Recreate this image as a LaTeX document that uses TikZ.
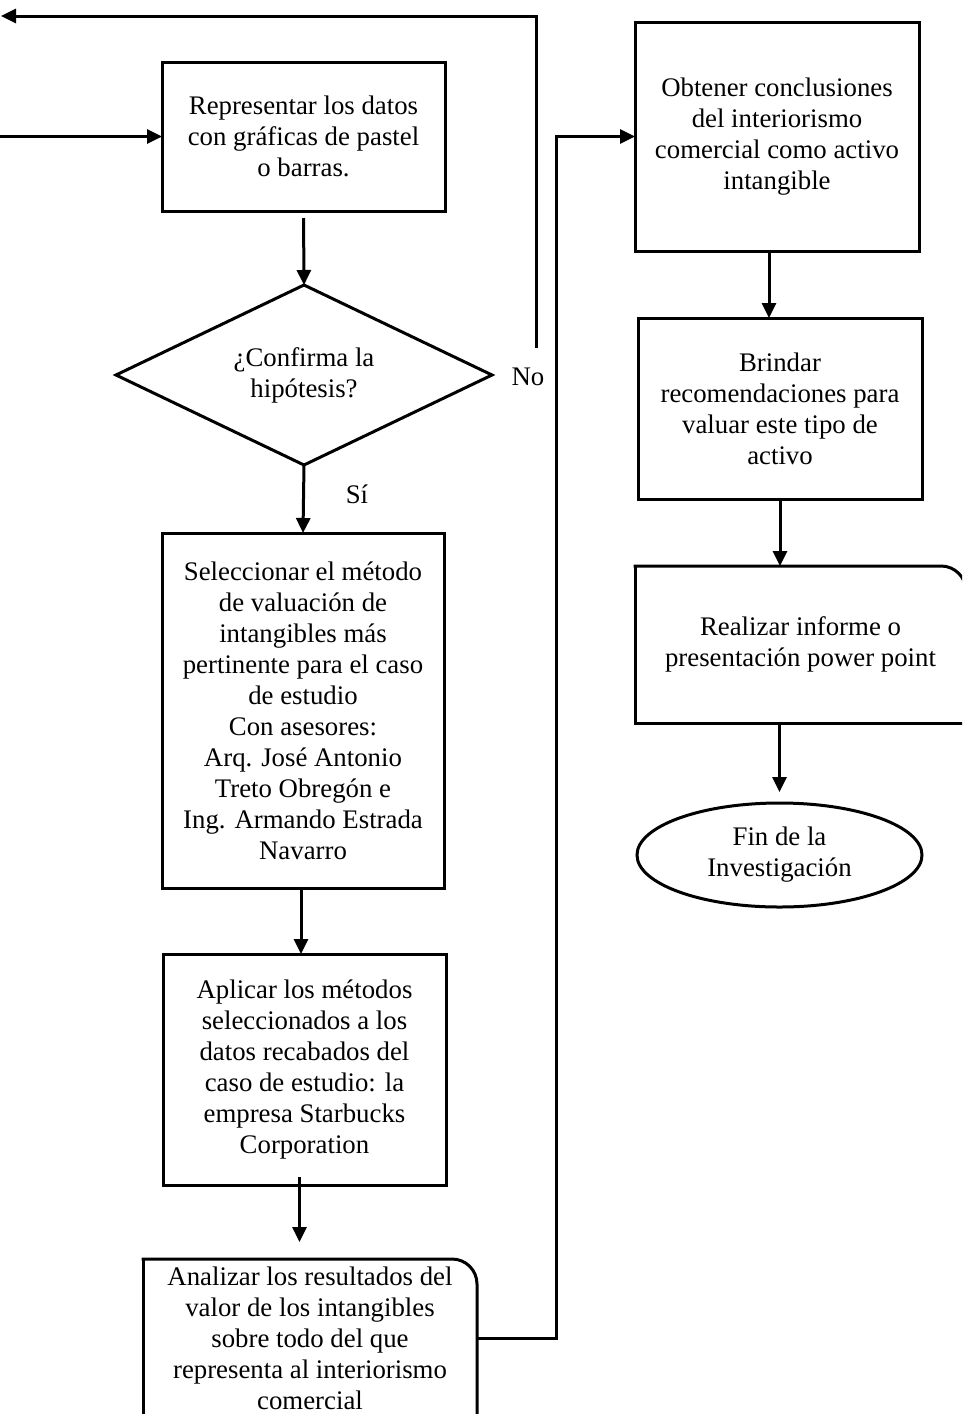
\documentclass[tikz,border=0pt]{standalone}
\usepackage{fontspec}
\setmainfont{Liberation Serif}
\usetikzlibrary{shapes.geometric,arrows.meta,calc}
\tikzset{
  txt/.style={font=\fontsize{26.8pt}{31pt}\selectfont, align=center, inner sep=0pt, outer sep=0pt},
  procbox/.style={txt, draw, line width=3pt, rectangle},
  decision/.style={txt, draw, line width=3pt, diamond, aspect=2.09},
  terminal/.style={txt, draw, line width=3pt, ellipse},
  edge/.style={line width=3pt, line cap=rect},
  conn/.style={line width=3pt, -{Triangle[length=15pt,width=14pt]}}
}
\begin{document}
\begin{tikzpicture}[x=1pt,y=-1pt]
\clip (0,0) rectangle (962,1414);
\fill[white] (0,0) rectangle (962,1414);

\node[procbox, minimum width=283pt, minimum height=149pt] (b1) at (303.5,136.5)
  {Representar los datos\\con gráficas de pastel\\o barras.};
\node[decision, minimum width=376pt, minimum height=180pt] (d) at (304,375)
  {¿Confirma la\\hipótesis?};
\node[procbox, minimum width=282pt, minimum height=355pt] (b2) at (303,710.5)
  {Seleccionar el método\\de valuación de\\intangibles más\\pertinente para el caso\\de estudio\\Con asesores:\\Arq. José Antonio\\Treto Obregón e\\Ing. Armando Estrada\\Navarro};
\node[procbox, minimum width=283pt, minimum height=231pt] (b3) at (304.5,1069.5)
  {Aplicar los métodos\\seleccionados a los\\datos recabados del\\caso de estudio: la\\empresa Starbucks\\Corporation};
\node[txt, minimum width=334pt, minimum height=159pt] (b4) at (310,1338.5)
  {Analizar los resultados del\\valor de los intangibles\\sobre todo del que\\representa al interiorismo\\comercial};
\node[procbox, minimum width=284pt, minimum height=229pt] (b5) at (777,136.5)
  {Obtener conclusiones\\del interiorismo\\comercial como activo\\intangible};
\node[procbox, minimum width=284pt, minimum height=181pt] (b6) at (780,408.5)
  {Brindar\\recomendaciones para\\valuar este tipo de\\activo};
\node[txt, minimum width=331pt, minimum height=157pt] (b7) at (800.5,644.5)
  {Realizar informe o\\presentación power point};
\node[terminal, minimum width=285pt, minimum height=104pt] (e) at (779.5,855)
  {Fin de la\\Investigación};

\node[txt] (no) at (528,377) {No};
\node[txt] (si) at (357,494) {Sí};

% rounded-corner process boxes (only the top-right corner rounded)
\draw[edge, rounded corners=25pt] (b4.north west) -- (b4.north east) -- (b4.south east);
\draw[edge] (b4.north west) -- (b4.south west) -- (b4.south east);
\draw[edge, rounded corners=25pt] (b7.north west) -- (b7.north east) -- (b7.south east);
\draw[edge] (b7.north west) -- (b7.south west) -- (b7.south east);

% free ends
\coordinate (entry) at (0,136.5);
\coordinate (nofrom) at (536,348);
\coordinate (loopto) at (1,16);
\coordinate (rise) at (556,1337);

% connectors
\draw[conn] (entry) -- (b1.west);
\draw[conn] (nofrom) |- (loopto);
\draw[conn, shorten <=7pt] (b1.south) -- (d.north);
\draw[conn] (d.south) -- (b2.north);
\draw[conn] ([xshift=-2pt]b2.south) -- ([xshift=-2pt]b2.south |- b3.north);
\draw[conn, shorten <=-8pt, shorten >=17pt] ([xshift=-5pt]b3.south) -- ([xshift=-5pt]b3.south |- b4.north);
\draw[conn] (b4.east) -- (b4.east -| rise) -- (rise |- b5.west) -- (b5.west);
\draw[conn] ([xshift=-8pt]b5.south) -- ([xshift=-8pt]b5.south |- b6.north);
\draw[conn] (b6.south) -- (b6.south |- b7.north);
\draw[conn, shorten >=11pt] (e.north |- b7.south) -- (e.north);
\end{tikzpicture}
\end{document}
